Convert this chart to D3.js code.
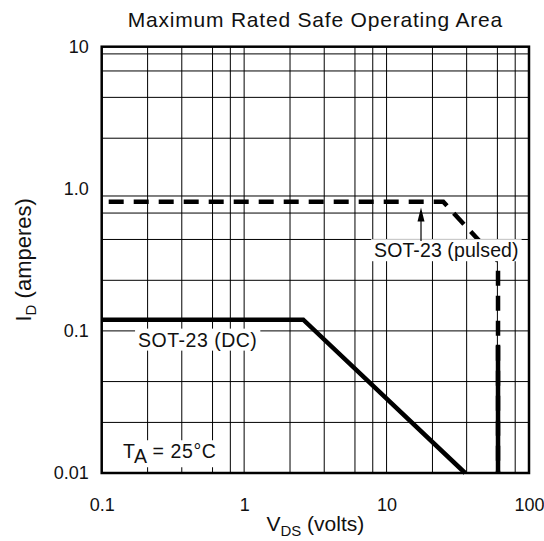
<!DOCTYPE html>
<html>
<head>
<meta charset="utf-8">
<script src="https://cdn.jsdelivr.net/npm/d3@7"></script>
<style>
  body { margin: 0; background: #fff; }
  svg { display: block; font-family: "Liberation Sans", Arial, sans-serif; }
</style>
</head>
<body>
<svg id="chart" width="544" height="541"></svg>
<script>
// axis ticks
const xTicks = [0.1, 1, 10, 100]
const xTickLabels = ["0.1", "1", "10", "100"]
const yTicks = [0.01, 0.1, 1, 10]
const yTickLabels = ["0.01", "0.1", "1.0", "10"]

// grid lines
const xMinorSteps = [2.1, 3.65, 6, 8]
const yGridValues = [8.9, 6.75, 4.4, 2.27, 0.89, 0.675, 0.44, 0.227, 0.1, 0.044, 0.0227]

// SOT-23 (DC)
const dcVolts = [0.1, 2.6, 35.6]
const dcAmps = [0.12, 0.12, 0.01]

// SOT-23 (pulsed)
const pulsedVolts = [0.1, 25, 60.6, 60.6]
const pulsedAmps = [0.81, 0.81, 0.31, 0.01]

// breakdown limit, solid part
const limitVolts = [60.6, 60.6]
const limitAmps = [0.01, 0.08]

function renderChart() {
	const dims = {
		width: 544,
		height: 541,
		margin: {top: 46.7, left: 101.7, right: 15, bottom: 68}
	}

	const svg = d3.select("#chart")

	const x = d3.scaleLog()
		.domain([0.1, 100])
		.range([dims.margin.left, dims.width - dims.margin.right])
	const y = d3.scaleLog()
		.domain([0.01, 10])
		.range([dims.height - dims.margin.bottom, dims.margin.top])

	const [x0, x1] = x.range()
	const [y1, y0] = y.range()

	// grid
	const xGrid = xTicks.slice(0, -1).flatMap(d => [d, ...xMinorSteps.map(s => d * s)])

	const grid = svg.append("g").attr("stroke", "#000").attr("stroke-width", 1)
	grid.selectAll(".vx")
		.data(xGrid)
		.join("line")
			.attr("x1", d => x(d)).attr("x2", d => x(d))
			.attr("y1", y0).attr("y2", y1)
	grid.selectAll(".hy")
		.data(yGridValues)
		.join("line")
			.attr("y1", d => y(d)).attr("y2", d => y(d))
			.attr("x1", x0).attr("x2", x1)

	// curves
	const line = d3.line()
		.x(d => x(d[0]))
		.y(d => y(d[1]))

	svg.append("path")
		.datum(d3.zip(dcVolts, dcAmps))
		.attr("d", line)
		.attr("fill", "none")
		.attr("stroke", "#000")
		.attr("stroke-width", 4.5)

	svg.append("path")
		.datum(d3.zip(pulsedVolts, pulsedAmps))
		.attr("d", line)
		.attr("fill", "none")
		.attr("stroke", "#000")
		.attr("stroke-width", 4.5)
		.attr("stroke-dasharray", "15,10")
		.attr("stroke-dashoffset", 18)

	svg.append("path")
		.datum(d3.zip(limitVolts, limitAmps))
		.attr("d", line)
		.attr("fill", "none")
		.attr("stroke", "#000")
		.attr("stroke-width", 4.5)

	// annotations: text start (volts), baseline (amps), box padding
	const notes = [
		{parts: [["SOT-23 (DC)", 0]], v: 0.18, a: 0.0775, padL: 3, padR: 3, spacing: 0.5},
		{parts: [["SOT-23 (pulsed)", 0]], v: 8.17, a: 0.33, padL: 3, padR: 3, spacing: 0.1},
		{parts: [["T", 0], ["A", 5], [" = 25°C", -5]], v: 0.141, a: 0.0127, padL: 14, padR: 12, spacing: 0.6}
	]

	notes.forEach(n => {
		const g = svg.append("g")
		const box = g.append("rect").attr("fill", "#fff")
		const t = g.append("text")
			.attr("x", x(n.v))
			.attr("y", y(n.a))
			.attr("font-size", 19.5)
			.attr("letter-spacing", n.spacing)
			.attr("fill", "#111")
		n.parts.forEach(p => t.append("tspan").attr("dy", p[1]).text(p[0]))
		const b = t.node().getBBox()
		box.attr("x", b.x - n.padL)
			.attr("y", b.y)
			.attr("width", b.width + n.padL + n.padR)
			.attr("height", b.height)
	})

	// arrow to pulsed curve
	const arrowV = 17.45
	svg.append("line")
		.attr("x1", x(arrowV)).attr("x2", x(arrowV))
		.attr("y1", y(0.43)).attr("y2", y(0.62))
		.attr("stroke", "#000").attr("stroke-width", 1.2)
	svg.append("path")
		.attr("d", `M${x(arrowV)},${y(0.74)} l-3.5,14 l7,0 Z`)
		.attr("fill", "#000")

	// frame
	svg.append("rect")
		.attr("x", x0).attr("y", y0)
		.attr("width", x1 - x0).attr("height", y1 - y0)
		.attr("fill", "none")
		.attr("stroke", "#000")
		.attr("stroke-width", 2.5)

	// axes labels
	const xAxis = d3.axisBottom(x)
		.tickValues(xTicks)
		.tickFormat((d, i) => xTickLabels[i])
		.tickSize(0)
		.tickPadding(25)
	svg.append("g")
		.attr("transform", `translate(0,${y1})`)
		.call(xAxis)
		.call(g => g.select(".domain").remove())
		.selectAll("text")
			.attr("font-size", 18)
			.attr("font-family", "Liberation Sans, Arial, sans-serif")
			.attr("fill", "#111")

	const yAxis = d3.axisLeft(y)
		.tickValues(yTicks)
		.tickFormat((d, i) => yTickLabels[i])
		.tickSize(0)
		.tickPadding(13)
	svg.append("g")
		.attr("transform", `translate(${x0},0)`)
		.call(yAxis)
		.call(g => g.select(".domain").remove())
		.selectAll("text")
			.attr("font-size", 18)
			.attr("font-family", "Liberation Sans, Arial, sans-serif")
			.attr("fill", "#111")

	// title
	svg.append("text")
		.attr("x", (x0 + x1) / 2)
		.attr("y", 27)
		.attr("text-anchor", "middle")
		.attr("font-size", 21)
		.attr("letter-spacing", 0.8)
		.attr("fill", "#111")
		.text("Maximum Rated Safe Operating Area")

	const xTitle = svg.append("text")
		.attr("x", (x0 + x1) / 2)
		.attr("y", 531)
		.attr("text-anchor", "middle")
		.attr("font-size", 21)
		.attr("fill", "#111")
	xTitle.append("tspan").text("V")
	xTitle.append("tspan").attr("font-size", 15).attr("dy", 5).text("DS")
	xTitle.append("tspan").attr("dy", -5).text(" (volts)")

	const yTitle = svg.append("text")
		.attr("transform", `translate(31,${(y0 + y1) / 2}) rotate(-90)`)
		.attr("text-anchor", "middle")
		.attr("font-size", 22)
		.attr("fill", "#111")
	yTitle.append("tspan").text("I")
	yTitle.append("tspan").attr("font-size", 15).attr("dy", 5).text("D")
	yTitle.append("tspan").attr("dy", -5).text(" (amperes)")
}
renderChart()
</script>
</body>
</html>
